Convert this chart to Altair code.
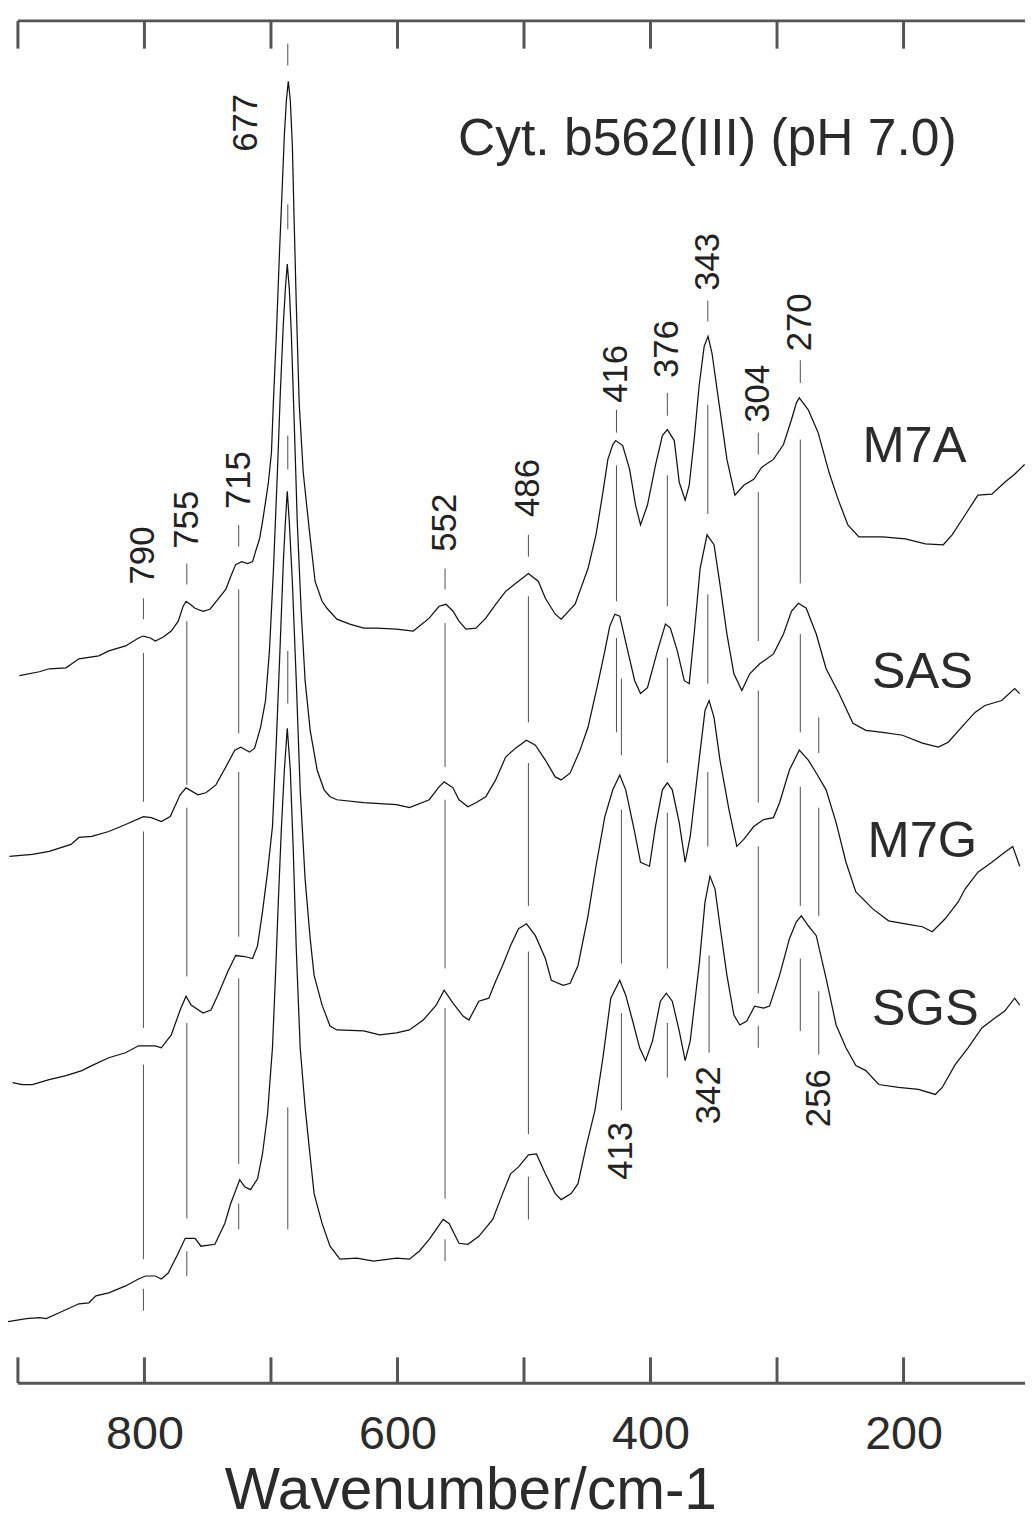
import altair as alt
import pandas as pd

W, H = 1015, 1373
FONT = "Liberation Sans"

# ---------------- spectra: wavenumber (cm-1) and intensity (arb. units, offset traces) ----------------
M7A_wn = [898.8, 883.1, 875.3, 862.0, 851.8, 836.1, 828.2, 814.9, 804.7, 800.8,
          795.3, 791.4, 785.1, 778.8, 773.3, 769.4, 767.1, 763.9, 760.0, 753.7,
          748.2, 742.0, 735.7, 731.8, 727.9, 723.1, 718.4, 714.5, 712.2, 709.0,
          706.7, 704.3, 702.0, 699.6, 698.1, 695.7, 693.3, 691.0, 689.4, 687.8,
          686.3, 684.7, 683.1, 681.6, 680.0, 677.7, 674.5, 669.8, 665.1, 659.6,
          655.7, 647.9, 637.7, 626.7, 616.5, 600.8, 587.5, 574.9, 567.1, 561.6,
          556.1, 551.4, 545.9, 538.0, 530.2, 522.4, 514.5, 506.7, 496.5, 488.6,
          483.1, 475.3, 470.6, 459.6, 449.4, 443.1, 437.6, 433.7, 429.8, 427.5,
          422.0, 416.5, 411.8, 407.9, 402.4, 396.1, 390.6, 386.7, 381.2, 377.3,
          372.6, 369.4, 365.5, 361.6, 357.6, 354.5, 351.4, 345.9, 339.6, 333.3,
          326.3, 318.4, 312.2, 302.8, 294.9, 288.6, 284.7, 282.4, 275.3, 267.5,
          258.9, 251.8, 244.0, 235.3, 216.5, 198.5, 182.8, 168.6, 161.6, 151.4,
          141.2, 130.2, 120.0, 112.2, 104.3]
M7A_I = [713, 717, 720, 721, 730, 733, 738, 743, 751, 753,
         751, 748, 752, 758, 768, 783, 788, 785, 781, 778,
         780, 790, 800, 813, 825, 828, 826, 828, 838, 851,
         868, 888, 908, 938, 988, 1058, 1138, 1208, 1258, 1293,
         1312, 1293, 1248, 1168, 1088, 988, 918, 861, 808, 788,
         781, 770, 765, 761, 761, 760, 758, 771, 783, 785,
         778, 768, 760, 761, 771, 785, 798, 806, 816, 808,
         791, 775, 770, 785, 821, 855, 898, 931, 946, 950,
         945, 921, 885, 865, 885, 925, 955, 961, 950, 908,
         890, 905, 951, 1005, 1045, 1055, 1038, 988, 931, 895,
         905, 911, 923, 931, 946, 971, 988, 993, 981, 958,
         918, 891, 865, 853, 853, 851, 846, 845, 855, 875,
         895, 896, 908, 916, 926]

SAS_wn = [906.7, 888.6, 875.3, 858.0, 851.8, 841.6, 828.2, 814.9, 800.8, 794.5,
          786.7, 779.6, 771.8, 767.1, 757.7, 751.4, 743.5, 735.7, 728.6, 723.9,
          716.9, 712.9, 708.2, 704.3, 701.2, 698.1, 694.9, 692.6, 690.2, 688.6,
          687.1, 685.5, 683.9, 681.6, 679.2, 676.1, 673.0, 669.0, 663.5, 658.0,
          653.3, 647.9, 626.7, 600.8, 590.6, 574.9, 567.1, 563.1, 556.1, 551.4,
          544.3, 538.0, 530.2, 522.4, 514.5, 506.7, 498.0, 491.0, 483.1, 475.3,
          470.6, 463.5, 455.7, 449.4, 441.6, 436.1, 432.2, 428.2, 424.3, 418.0,
          412.5, 407.9, 402.4, 394.5, 388.2, 384.3, 378.8, 373.3, 369.4, 365.5,
          360.8, 355.3, 349.8, 345.1, 339.6, 334.1, 327.8, 321.6, 313.7, 302.8,
          294.9, 288.6, 283.1, 276.9, 269.0, 261.2, 251.0, 240.0, 229.8, 216.5,
          200.8, 185.1, 172.5, 164.7, 151.4, 143.5, 135.7, 122.4, 112.2, 108.2]
SAS_I = [531, 533, 536, 543, 550, 551, 556, 563, 571, 570,
         566, 571, 593, 600, 593, 595, 603, 621, 638, 641,
         636, 640, 661, 688, 738, 818, 918, 998, 1068, 1103,
         1128, 1103, 1058, 968, 868, 778, 708, 658, 618, 598,
         591, 588, 585, 583, 580, 588, 601, 606, 600, 588,
         581, 585, 591, 608, 631, 640, 648, 643, 628, 611,
         608, 615, 638, 661, 705, 738, 763, 775, 773, 738,
         708, 695, 701, 738, 765, 761, 738, 708, 705, 755,
         821, 855, 845, 805, 755, 715, 698, 715, 725, 735,
         755, 778, 786, 781, 755, 720, 695, 665, 658, 656,
         653, 645, 641, 646, 665, 676, 683, 688, 700, 695]

M7G_wn = [904.3, 896.5, 888.6, 875.3, 862.0, 849.4, 841.6, 828.2, 814.9, 804.7,
          791.4, 786.7, 778.8, 771.8, 767.1, 763.1, 753.7, 747.4, 742.0, 734.1,
          727.9, 720.8, 714.5, 710.6, 706.7, 702.7, 698.8, 695.7, 692.6, 690.2,
          688.6, 687.1, 685.5, 683.1, 680.0, 676.9, 673.0, 669.0, 665.9, 659.6,
          653.3, 647.9, 626.7, 614.1, 600.8, 590.6, 579.6, 569.4, 563.1, 556.1,
          548.2, 543.5, 535.7, 527.8, 522.4, 516.9, 510.6, 504.3, 498.0, 491.0,
          483.1, 478.4, 469.0, 463.5, 457.3, 449.4, 443.1, 436.1, 429.8, 424.3,
          419.6, 412.5, 407.9, 400.8, 396.1, 390.6, 386.7, 382.8, 377.3, 372.6,
          368.6, 361.6, 356.9, 353.7, 349.8, 345.1, 338.0, 331.8, 326.3, 318.4,
          310.6, 302.8, 298.0, 290.2, 282.4, 275.3, 269.0, 261.2, 253.3, 245.5,
          237.7, 224.3, 211.8, 198.5, 185.1, 177.3, 167.1, 156.8, 151.4, 141.2,
          130.2, 120.0, 113.7, 108.2]
M7G_I = [303, 301, 301, 306, 310, 315, 320, 328, 333, 340,
         340, 338, 351, 376, 390, 381, 373, 376, 391, 415,
         431, 430, 428, 441, 475, 515, 561, 648, 748, 828,
         868, 899, 868, 808, 708, 598, 508, 448, 411, 381,
         360, 356, 355, 351, 353, 356, 366, 381, 396, 383,
         370, 366, 385, 388, 405, 421, 441, 458, 463, 451,
         428, 406, 401, 403, 421, 471, 521, 571, 598, 613,
         598, 555, 525, 521, 561, 598, 605, 598, 565, 525,
         551, 628, 678, 688, 671, 628, 578, 541, 548, 561,
         568, 570, 585, 618, 638, 628, 615, 598, 565, 525,
         495, 478, 466, 463, 460, 455, 468, 485, 498, 515,
         525, 535, 541, 521]

SGS_wn = [908.2, 893.3, 883.1, 877.6, 867.4, 851.8, 843.9, 838.4, 828.2, 814.9,
          804.7, 799.2, 791.4, 786.7, 781.2, 773.3, 767.8, 760.0, 755.3, 744.3,
          736.5, 731.8, 724.7, 720.8, 716.1, 710.6, 706.7, 702.7, 700.4, 698.8,
          696.5, 694.1, 691.8, 689.4, 687.1, 684.7, 682.4, 680.0, 676.9, 673.0,
          669.8, 665.9, 659.6, 653.3, 645.5, 632.2, 618.8, 600.8, 590.6, 582.8,
          574.9, 563.9, 559.2, 551.4, 544.3, 535.7, 524.7, 516.9, 510.6, 504.3,
          496.5, 490.2, 483.1, 475.3, 470.6, 462.7, 457.3, 451.0, 443.9, 437.6,
          431.4, 424.3, 419.6, 414.1, 408.6, 403.9, 398.4, 392.2, 387.5, 382.8,
          377.3, 372.6, 368.6, 361.6, 356.9, 353.0, 349.0, 345.1, 339.6, 334.1,
          329.4, 323.9, 317.7, 310.6, 305.9, 298.0, 290.2, 284.7, 280.8, 275.3,
          269.0, 261.2, 253.3, 245.5, 237.7, 229.8, 219.6, 204.0, 188.2, 174.9,
          169.4, 159.2, 149.0, 138.1, 127.8, 120.0, 112.2, 108.2]
SGS_I = [62, 65, 66, 65, 71, 80, 81, 88, 91, 98,
         105, 108, 108, 105, 111, 131, 146, 146, 138, 140,
         161, 181, 205, 198, 195, 206, 231, 271, 311, 338,
         408, 488, 558, 618, 660, 618, 538, 438, 338, 278,
         238, 191, 161, 138, 125, 126, 123, 126, 125, 133,
         145, 165, 161, 141, 140, 148, 165, 191, 211, 218,
         230, 231, 211, 191, 185, 191, 201, 238, 275, 328,
         388, 406, 391, 365, 338, 325, 345, 385, 393, 385,
         355, 325, 345, 421, 485, 511, 498, 461, 411, 371,
         361, 365, 380, 378, 380, 411, 448, 465, 471, 461,
         451, 408, 361, 338, 320, 315, 301, 298, 296, 291,
         298, 321, 338, 358, 368, 375, 388, 381]

# ---------------- band marker lines (broken vertical lines) ----------------
marker_wn = [800.8, 766.5, 725.5, 686.7, 562.4, 496.5, 426.9, 423.0, 386.7, 354.7, 353.7, 314.8, 281.6, 267.0]
marker_tops = [[791, 736, 556, 321, 95],
               [826, 768, 580, 363, 133],
               [865, 800, 616, 408, 181],
               [1350, 1188, 955, 738, 278],
               [821, 766, 588, 378, 145],
               [855, 793, 625, 435, 208],
               [981, 925, 751],
               [710, 578, 373],
               [998, 915, 731, 575, 363],
               [1091, 986, 795, 616],
               [431],
               [958, 898, 698, 541, 360],
               [1031, 951, 755, 601, 428],
               [671, 580, 395]]
marker_bottoms = [[770, 586, 358, 125, 73],
                  [805, 603, 410, 166, 108],
                  [843, 655, 450, 221, 155],
                  [1328, 1163, 921, 685, 155],
                  [800, 621, 418, 186, 123],
                  [833, 666, 481, 251, 165],
                  [958, 788, 656],
                  [633, 423, 275],
                  [975, 783, 625, 418, 308],
                  [1070, 876, 705, 541],
                  [333],
                  [936, 748, 585, 393, 338],
                  [1008, 806, 656, 481, 355],
                  [635, 471, 331]]

# ---------------- band labels ----------------
band_text = ["790", "755", "715", "677", "552", "486", "416", "376", "343", "304", "270", "413", "342", "256"]
band_wn = [800.8, 766.5, 725.5, 720.0, 562.4, 496.5, 426.9, 386.7, 354.7, 314.8, 281.6, 423.0, 353.7, 267.0]
band_I = [805, 841, 881, 1241, 838, 873, 988, 1013, 1101, 968, 1040, 205, 261, 258]

# ---------------- sample names ----------------
sample_names = ["M7A", "SAS", "M7G", "SGS"]
sample_wn = [232.5, 225.1, 228.5, 225.1]
sample_I = [928, 701, 530, 361]

title_text = ["Cyt. b562(III) (pH 7.0)"]
title_wn = [552.2]
title_I = [1238]

axis_ticks = [900, 800, 700, 600, 500, 400, 300, 200]
label_ticks = [800, 600, 400, 200]

# ---------------- build tables ----------------
spectra = pd.concat([
    pd.DataFrame({"series": "M7A", "wn": M7A_wn, "I": M7A_I}),
    pd.DataFrame({"series": "SAS", "wn": SAS_wn, "I": SAS_I}),
    pd.DataFrame({"series": "M7G", "wn": M7G_wn, "I": M7G_I}),
    pd.DataFrame({"series": "SGS", "wn": SGS_wn, "I": SGS_I}),
], ignore_index=True)

seg_rows = []
for w, tops, bots in zip(marker_wn, marker_tops, marker_bottoms):
    for t, b in zip(tops, bots):
        seg_rows.append({"wn": w, "I": t, "I2": b})
segments = pd.DataFrame(seg_rows)

bands = pd.DataFrame({"wn": band_wn, "I": band_I, "text": band_text})
samples = pd.DataFrame({"wn": sample_wn, "I": sample_I, "text": sample_names})
title_df = pd.DataFrame({"wn": title_wn, "I": title_I, "text": title_text})
ticks_df = pd.DataFrame({"wn": axis_ticks})
one = pd.DataFrame({"k": [0]})

label_expr = "indexof([" + ",".join(str(v) for v in label_ticks) + "], datum.value) >= 0 ? datum.label : ''"

x_enc = alt.X(
    "wn:Q",
    title="Wavenumber/cm-1",
    scale=alt.Scale(domain=[104, 900], reverse=True, nice=False, zero=False),
    axis=alt.Axis(
        values=axis_ticks, labelExpr=label_expr, domain=False, ticks=False, tickSize=0, grid=False,
        labelFont=FONT, labelFontSize=47, labelColor="#2b2b2b", labelPadding=29,
        labelFlush=False, labelOverlap=False,
        titleFont=FONT, titleFontSize=59, titleFontWeight="normal", titleColor="#2b2b2b",
        titleX=456, titleY=126, titleBaseline="alphabetic", titleAlign="center",
    ),
)
y_enc = alt.Y("I:Q", scale=alt.Scale(domain=[0, H], nice=False, zero=False), axis=None)

frame_color = "#555555"
top_line = alt.Chart(one).mark_rule(color=frame_color, strokeWidth=3).encode(
    x=alt.value(0), x2=alt.value(W), y=alt.value(0))
bottom_line = alt.Chart(one).mark_rule(color=frame_color, strokeWidth=3).encode(
    x=alt.value(0), x2=alt.value(W), y=alt.value(H))
top_ticks = alt.Chart(ticks_df).mark_rule(color=frame_color, strokeWidth=3).encode(
    x=x_enc, y=alt.value(0), y2=alt.value(28))
bottom_ticks = alt.Chart(ticks_df).mark_rule(color=frame_color, strokeWidth=3).encode(
    x=x_enc, y=alt.value(H), y2=alt.value(H - 26))

marker_layer = alt.Chart(segments).mark_rule(color="#3a3a3a", strokeWidth=0.9).encode(
    x=x_enc, y=y_enc, y2=alt.Y2("I2:Q"))

spectra_layer = alt.Chart(spectra).mark_line(color="#111111", strokeWidth=1.25).encode(
    x=x_enc, y=y_enc, detail="series:N")

band_layer = alt.Chart(bands).mark_text(
    angle=270, align="left", baseline="middle", font=FONT, fontSize=35, color="#222222"
).encode(x=x_enc, y=y_enc, text="text:N")

sample_layer = alt.Chart(samples).mark_text(
    align="left", baseline="alphabetic", font=FONT, fontSize=51, color="#2b2b2b"
).encode(x=x_enc, y=y_enc, text="text:N")

title_layer = alt.Chart(title_df).mark_text(
    align="left", baseline="alphabetic", font=FONT, fontSize=52, color="#2b2b2b"
).encode(x=x_enc, y=y_enc, text="text:N")

chart = alt.layer(
    marker_layer, spectra_layer, band_layer, sample_layer, title_layer,
    top_line, bottom_line, top_ticks, bottom_ticks,
).properties(
    width=W, height=H,
    autosize=alt.AutoSizeParams(type="none"),
    padding={"left": 10, "top": 7, "right": 0, "bottom": 139},
    background="white",
).configure_view(stroke=None)

chart.save("out.html", embed_options={"renderer": "svg", "actions": False})
